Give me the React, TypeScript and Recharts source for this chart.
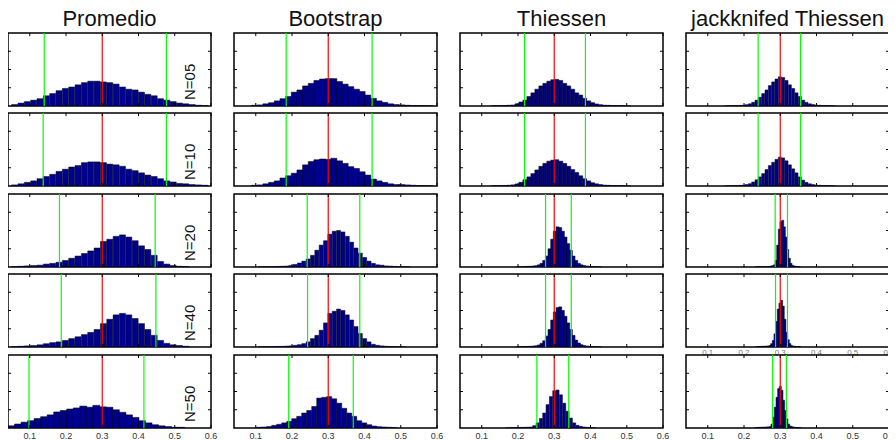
import React from 'react';
import { BarChart, Bar, XAxis, YAxis, ReferenceLine, ReferenceArea } from 'recharts';

// histogram panels: one column per estimator, one row per sample size
const methods = ['Promedio', 'Bootstrap', 'Thiessen', 'jackknifed Thiessen'];
const sampleSizes = ['N=05', 'N=10', 'N=20', 'N=40', 'N=50'];
const trueValue = 0.3;
const xDomain = [0.04, 0.6];
const yDomain = [0, 100];
const xTicks = [0.1, 0.2, 0.3, 0.4, 0.5, 0.6];
const yTicks = [25, 50, 75];

// [first bin edge, bin width] per row
const promedioBins = [[0.05, 0.0175], [0.05, 0.0175], [0.05, 0.0175], [0.05, 0.0175], [0.04, 0.018]];
const bootstrapBins = [[0.0888, 0.0156], [0.0888, 0.0156], [0.107, 0.012], [0.107, 0.012], [0.1026, 0.0138]];
const thiessenBins = [[0.1255, 0.011], [0.1255, 0.011], [0.1945, 0.00736], [0.1945, 0.00736], [0.167, 0.0092]];
const jackBins = [[0.1476, 0.0092], [0.1476, 0.0092], [0.2304, 0.0046], [0.232, 0.0046], [0.2284, 0.0046]];

// 2.5% / 97.5% limits per row
const promedioCI = [[0.14, 0.477], [0.137, 0.477], [0.182, 0.446], [0.187, 0.448], [0.098, 0.415]];
const bootstrapCI = [[0.184, 0.421], [0.184, 0.421], [0.242, 0.387], [0.243, 0.387], [0.191, 0.369]];
const thiessenCI = [[0.218, 0.386], [0.218, 0.386], [0.276, 0.347], [0.276, 0.347], [0.252, 0.34]];
const jackCI = [[0.239, 0.356], [0.239, 0.356], [0.286, 0.32], [0.287, 0.32], [0.279, 0.317]];

// bin heights (percent of axis height)
const promedioN05 = [2, 4, 6, 8, 10, 14, 17, 21, 24, 26, 29, 32, 34, 34, 33, 32, 30, 26, 23, 22, 19, 16, 14, 10, 8, 6, 4, 3, 2, 1, 0.5];
const promedioN10 = [1.5, 3, 5, 7, 10, 13, 16, 20, 23, 26, 28, 32, 33, 33, 32, 30, 29, 27, 23, 21, 18, 15, 13, 10, 7, 5.5, 3.5, 3, 2, 1.5, 1];
const promedioN20 = [0.5, 1, 1.5, 2, 2.5, 4, 5, 6.5, 9, 12, 15, 18.5, 22, 26, 35, 38, 42, 44, 41, 36, 29, 24, 16, 7.5, 4, 2, 1, 0.5];
const promedioN40 = [0.5, 1, 1.5, 2, 3, 4.5, 6, 7, 9, 11.5, 14, 17, 20, 24, 32, 38, 44, 46, 44, 39, 32, 24, 16, 9, 5, 3, 2, 1];
const promedioN50 = [3, 5.5, 8, 10, 13, 15.5, 18, 22, 24, 26, 27.5, 30, 28.5, 31, 29, 28.5, 25, 21.5, 18, 14.5, 10, 7, 4.5, 3, 2, 1, 1];

const bootstrapN05 = [1, 1.5, 3, 4.5, 7, 10, 13, 19, 22, 27.5, 31, 35, 37, 37.5, 37.5, 33.5, 30, 26.5, 23, 20, 15, 10.5, 7, 5, 3, 2, 1.5, 1, 0.7, 0.5, 0.4, 0.3];
const bootstrapN10 = [1, 1.5, 3, 5, 7, 11, 14, 17.5, 22, 29, 33.5, 36, 37, 36.5, 38, 34.5, 31, 26.5, 24, 19.5, 15, 9.5, 7, 5, 3, 2, 2, 1.5, 1, 0.5, 0.4, 0.3];
const bootstrapN20 = [0.3, 0.4, 0.5, 0.6, 0.8, 1, 1.3, 2, 3.5, 5.5, 8, 11, 16, 23, 30, 36, 45, 49, 50, 48, 42, 34, 26, 19, 13, 8, 5, 3, 2.5, 1.5, 1.2, 0.8, 0.5, 0.3, 0.3];
const bootstrapN40 = [0.3, 0.4, 0.5, 0.6, 0.8, 0.9, 1.2, 1.6, 2.3, 3.2, 4.6, 7, 11.5, 16, 23, 33, 46, 49, 52, 50, 44, 37, 28, 18.5, 11.5, 7, 3.7, 2.3, 1.5, 1, 0.7, 0.5, 0.3, 0.2];
const bootstrapN50 = [1, 1.4, 2, 3.6, 5, 7, 9, 12.7, 16, 20.5, 24, 29.5, 41, 42, 43, 40, 34, 27, 20.5, 16, 10, 7, 4.5, 2.7, 1.8, 1.4, 1, 0.5];

const thiessenN05 = [0.3, 0.4, 0.5, 0.7, 1, 1.4, 3, 5.5, 8, 13, 18, 23, 27.5, 31, 34, 36, 36.5, 35, 31, 27.5, 23, 18, 15, 10.5, 7, 4.6, 2.8, 1.8, 1.1, 0.9, 0.6, 0.5, 0.4, 0.3, 0.2];
const thiessenN10 = [0.3, 0.4, 0.5, 0.7, 1, 1.6, 2.8, 5, 8.5, 12.5, 17, 22, 27, 31, 34, 35.5, 36, 34, 31, 27, 22.5, 18.5, 14, 10, 7, 4.5, 3, 2, 1.2, 0.9, 0.6, 0.5, 0.4, 0.3, 0.2];
const thiessenN20 = [0.3, 0.4, 0.5, 0.7, 0.9, 1.1, 1.4, 1.8, 3, 5, 9, 15, 25, 38, 49, 55, 54, 49, 41, 32, 23, 15, 9, 5, 3, 2, 1.4, 1, 0.7, 0.5, 0.3, 0.2];
const thiessenN40 = [0.3, 0.4, 0.5, 0.6, 0.8, 1, 1.3, 1.7, 2.8, 5, 8.5, 15, 24, 37, 48, 54, 55, 50, 42, 33, 24, 16, 9.5, 5.5, 3.2, 2, 1.4, 1, 0.7, 0.5, 0.3, 0.2];
const thiessenN50 = [0.3, 0.5, 0.6, 0.7, 0.8, 0.9, 1.1, 1.4, 3.2, 7, 13, 20.5, 32, 43, 51, 52, 45.5, 34, 23, 13.6, 7, 3.6, 2.3, 1.4, 0.9, 0.5, 0.3];

const jackN05 = [0.2, 0.4, 0.5, 0.6, 0.8, 1, 1.8, 3, 5, 8, 12, 17, 22, 28, 33, 37, 40, 39, 35, 29, 24, 18, 13, 8, 5, 3, 2, 1.3, 1, 0.7, 0.5, 0.4, 0.3];
const jackN10 = [0.2, 0.3, 0.5, 0.6, 0.8, 1.1, 2, 3.2, 5.5, 8.5, 12.5, 17, 22.5, 28, 32.5, 36.5, 39.5, 38.5, 34.5, 29, 23.5, 18, 12.5, 8, 5, 3, 2, 1.3, 1, 0.7, 0.5, 0.4, 0.3];
const jackN20 = [0.2, 0.2, 0.3, 0.3, 0.3, 0.3, 0.3, 0.5, 0.8, 1.2, 1.8, 3, 9, 30, 52, 62, 64, 55, 41, 24, 12, 5, 2.2, 1.4, 0.9, 0.5, 0.3];
const jackN40 = [0.4, 0.5, 0.7, 0.9, 1, 1, 1.2, 1.5, 2, 4.5, 9, 18, 35, 52, 60, 64, 56, 38, 20, 10, 4.6, 2, 1.2, 1, 0.6, 0.4, 0.2];
const jackN50 = [0.4, 0.6, 0.8, 1, 1, 1.1, 1.2, 1.4, 1.6, 2, 5.5, 15, 28.5, 42, 54, 57, 51.6, 38, 24, 12.5, 5.5, 2.8, 1.8, 1.2, 0.9, 0.6, 0.5, 0.3];

const counts = [
  [promedioN05, promedioN10, promedioN20, promedioN40, promedioN50],
  [bootstrapN05, bootstrapN10, bootstrapN20, bootstrapN40, bootstrapN50],
  [thiessenN05, thiessenN10, thiessenN20, thiessenN40, thiessenN50],
  [jackN05, jackN10, jackN20, jackN40, jackN50],
];
const bins = [promedioBins, bootstrapBins, thiessenBins, jackBins];
const limits = [promedioCI, bootstrapCI, thiessenCI, jackCI];

const FONT = '"Liberation Sans", Arial, Helvetica, sans-serif';
const PW = 203;
const PH = 73;
const PAD = 2;
const PAD_R = 8;
const TICK = 3; // inward tick length, px
const colLeft = [0, 226, 452, 678];
const rowTop = [25, 105, 186, 266, 347];
const OVER = 8; // overlay svg starts above the container so titles are not clipped

// tick length expressed in axis units
const tickDX = (TICK / PW) * (xDomain[1] - xDomain[0]);
const tickDY = (TICK / PH) * (yDomain[1] - yDomain[0]);

type LabelMode = 'none' | 'normal' | 'faint';

const BottomLabel = (props: any) => {
  const { x, y, payload, mode } = props;
  if (mode === 'faint') {
    return (
      <text x={x} y={y + 8} textAnchor="middle" fontSize={8} fontFamily={FONT} fill="#777">
        {payload.value}
      </text>
    );
  }
  return (
    <text x={x} y={y + 11} textAnchor="middle" fontSize={9} fontFamily={FONT} fill="#333">
      {payload.value}
    </text>
  );
};

interface PanelProps {
  values: number[];
  bin: number[];
  ci: number[];
  mode: LabelMode;
}

const Panel: React.FC<PanelProps> = ({ values, bin, ci, mode }) => {
  const data = values.map((c, i) => ({ x: bin[0] + (i + 0.5) * bin[1], count: c }));
  const labelH = mode === 'normal' ? 14 : mode === 'faint' ? 10 : 0;
  const tickStyle = { stroke: '#000', strokeWidth: 1 };

  return (
    <BarChart
      width={PW + PAD + PAD_R}
      height={PH + PAD * 2 + labelH}
      data={data}
      margin={{ top: PAD, right: PAD_R, bottom: PAD, left: PAD }}
      barCategoryGap={0}
      barGap={0}
    >
      <XAxis
        dataKey="x"
        type="number"
        domain={xDomain}
        ticks={xTicks}
        allowDataOverflow
        interval={0}
        hide={mode === 'none'}
        height={labelH}
        tickLine={false}
        tickSize={0}
        tickMargin={0}
        axisLine={false}
        tick={(p: any) => <BottomLabel {...p} mode={mode} />}
      />
      <YAxis type="number" domain={yDomain} allowDataOverflow hide width={0} />
      <Bar dataKey="count" fill="#00008f" stroke="#000" strokeWidth={0.5} isAnimationActive={false} />
      <ReferenceLine x={ci[0]} stroke="#00ff00" strokeWidth={1.2} />
      <ReferenceLine x={ci[1]} stroke="#00ff00" strokeWidth={1.2} />
      <ReferenceLine x={trueValue} stroke="#ff0000" strokeWidth={1.2} />
      {xTicks.map((t) => (
        <ReferenceLine
          key={`b${t}`}
          segment={[{ x: t, y: yDomain[0] }, { x: t, y: yDomain[0] + tickDY }]}
          {...tickStyle}
        />
      ))}
      {xTicks.map((t) => (
        <ReferenceLine
          key={`t${t}`}
          segment={[{ x: t, y: yDomain[1] }, { x: t, y: yDomain[1] - tickDY }]}
          {...tickStyle}
        />
      ))}
      {yTicks.map((t) => (
        <ReferenceLine
          key={`l${t}`}
          segment={[{ x: xDomain[0], y: t }, { x: xDomain[0] + tickDX, y: t }]}
          {...tickStyle}
        />
      ))}
      {yTicks.map((t) => (
        <ReferenceLine
          key={`r${t}`}
          segment={[{ x: xDomain[1], y: t }, { x: xDomain[1] - tickDX, y: t }]}
          {...tickStyle}
        />
      ))}
      <ReferenceArea
        x1={xDomain[0]}
        x2={xDomain[1]}
        y1={yDomain[0]}
        y2={yDomain[1]}
        fill="none"
        fillOpacity={0}
        stroke="#000"
        strokeWidth={1.5}
        strokeOpacity={1}
      />
    </BarChart>
  );
};

export default function App() {
  return (
    <div style={{ position: 'relative', width: 880, height: 433, fontFamily: FONT }}>
      {methods.map((m, c) =>
        sampleSizes.map((n, r) => {
          const mode: LabelMode = r === 4 ? 'normal' : c === 3 && r === 3 ? 'faint' : 'none';
          return (
            <div
              key={`${m}-${n}`}
              style={{ position: 'absolute', left: colLeft[c] - PAD, top: rowTop[r] - PAD }}
            >
              <Panel values={counts[c][r]} bin={bins[c][r]} ci={limits[c][r]} mode={mode} />
            </div>
          );
        })
      )}
      <svg
        width={880}
        height={433 + OVER}
        style={{ position: 'absolute', left: 0, top: -OVER, pointerEvents: 'none' }}
      >
        {methods.map((m, c) => (
          <text
            key={m}
            x={colLeft[c] + PW / 2}
            y={18 + OVER}
            textAnchor="middle"
            fontSize={22}
            fontFamily={FONT}
            fill="#111"
          >
            {m}
          </text>
        ))}
        {sampleSizes.map((n, r) => (
          <text
            key={n}
            transform={`translate(${colLeft[0] + 187}, ${rowTop[r] + PH - 6 + OVER}) rotate(-90)`}
            fontSize={15}
            fontFamily={FONT}
            fill="#111"
          >
            {n}
          </text>
        ))}
      </svg>
    </div>
  );
}
